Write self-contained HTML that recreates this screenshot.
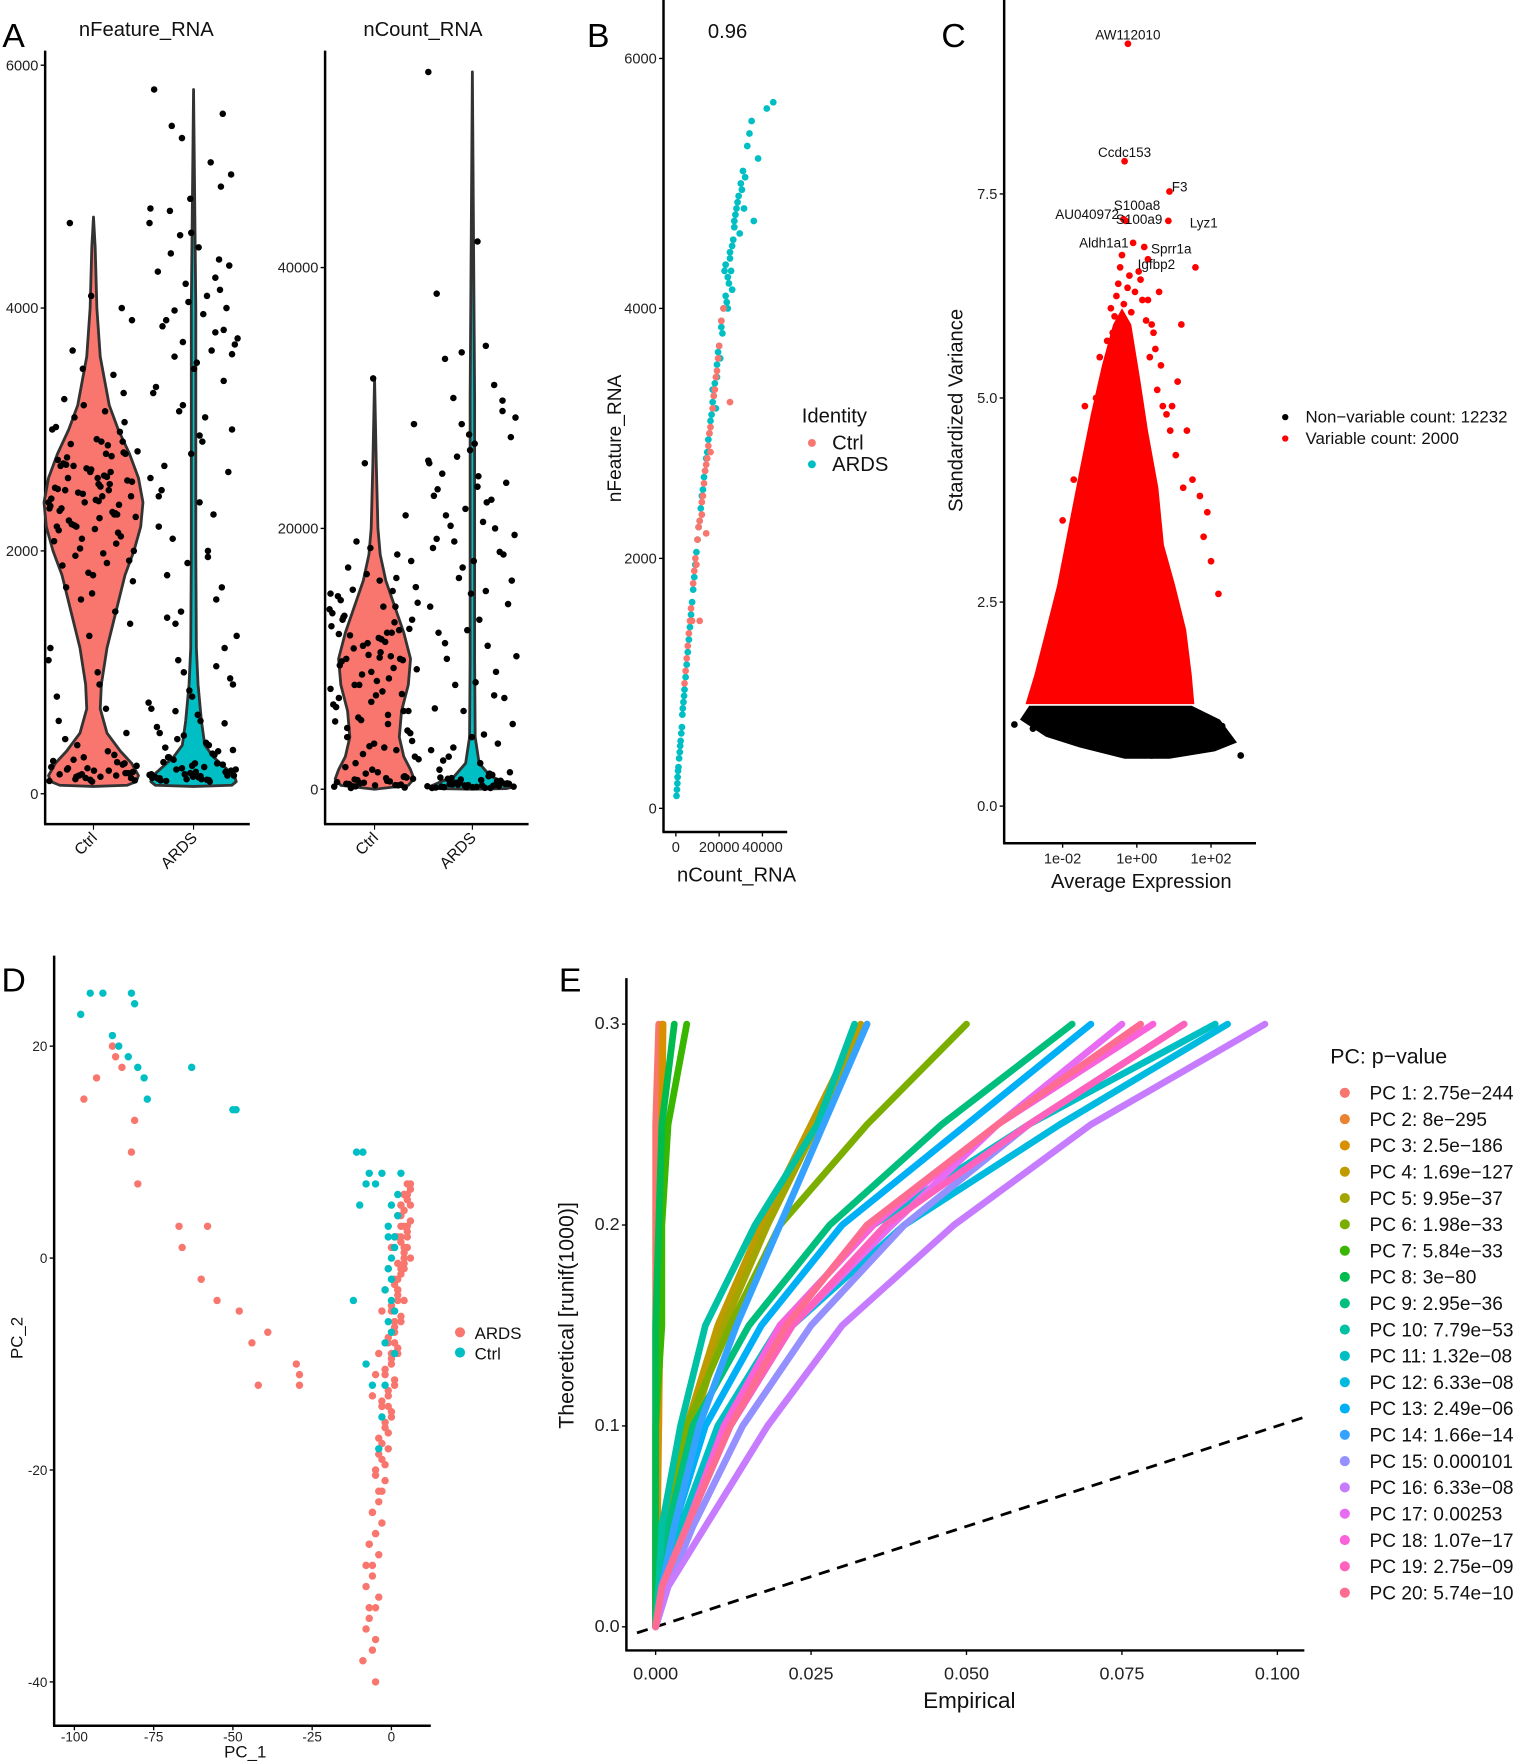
<!DOCTYPE html>
<html><head><meta charset="utf-8"><style>
html,body{margin:0;padding:0;background:#fff;}
svg{display:block;font-family:"Liberation Sans",Arial,sans-serif;}
</style></head><body>
<svg id="fig" width="1535" height="1764" viewBox="0 0 1365 1569">
<g id="g"></g>
</svg>
<script>
// ===== Panel A data =====
const a1Categories=["Ctrl","ARDS"];
const a1CtrlFeature=[2400,2600,2200,2800,2500,2300,2700,2900,2100,2450,2650,2350,2550,2750,1900,1700,1500,3100,3300,3500,3900,4100,1200,900,600,350,200,150,120,250,300,180,100,220,140,160,2500,2600,2300,2200,2800,2400,2000,1800,3000,2900,2700,2550,2250,2150,400,500,130,110,190,270,2450,2350,2650,4700,2380,2480,2580,2680,2280,2180,2080,1980,1880,2780,2880,2980,150,170,210,230,
2420,2520,2620,2720,2320,2220,2120,2020,1920,1820,2820,2920,3020,3150,3250,3450,3650,4000,1600,1400,1300,1100,1000,800,700,450,320,280,240,160,130,115,105,2410,2510,2610,2710,2310,2210,2810,2470,2570,2670,2370,2270,2170,2870,2770,2060,1960,3060,3200,1750,1650,2430,2530,2330,190,210,260,140,170];
const a1ArdsFeature=[5600,5400,5100,4900,4700,4500,4300,4100,3900,3800,3600,3400,3200,3000,2800,2600,2400,2200,2000,1800,1600,1400,1200,1000,900,800,700,600,500,400,300,250,200,180,160,150,140,130,120,110,100,300,350,450,4000,4200,3700,3500,3300,2900,2500,5200,4800,4400,1100,150,120,200,250,5800,3950,3850,3650,4450,4150,3150,2650,1900,1300,180,140,220,260,330,
5500,5000,4600,4350,4050,3750,3550,3350,3100,2700,2300,2100,1700,1500,950,850,750,650,550,420,380,320,280,240,210,190,170,155,135,125,115,105,4250,3980,3820,3720,3620,4620,4820,2950,2450,1950,1450,1050,680,580,480,360,230,160,145,128,112];
const a1CtrlDensity=[[4750,0],[4500,1.5],[4000,3],[3600,6],[3200,14],[3000,22],[2800,32],[2600,40],[2400,44],[2200,42],[2000,36],[1800,28],[1500,20],[1200,12],[900,7],[700,6],[500,12],[350,24],[250,34],[150,40],[100,38],[70,30],[60,0]];
const a1ArdsDensity=[[5800,0],[4000,2],[2000,2],[1200,2.5],[900,4],[600,7],[400,10],[300,18],[200,30],[150,36],[100,38],[70,34],[60,0]];
const a2CtrlCount=[12000,10000,14000,8000,6000,11000,13000,9000,15000,16000,7000,5000,4000,3000,2000,1000,500,800,1500,12500,10500,9500,8500,17000,18000,19000,21000,25000,28000,31500,13500,11500,14500,600,400,300,700,900,1200,2500,3500,6500,7500,9800,10200,11800,12200,5500,4500,16500,15500,300,200,14000,13000,12000,100,10000,8000,6000,11200,9200,7200,5200,3200,13200,15200,250,350,450,
12300,10300,14300,8300,6300,11300,13300,9300,15300,7300,5300,4300,3300,2300,1300,550,850,1700,12800,10800,9900,8800,17500,18500,13800,11600,14800,650,420,320,750,950,2700,3700,6700,7700,10100,11900,5700,4700,16200,220,130];
const a2ArdsCount=[55000,42000,38000,34000,33000,31000,30000,29000,28000,27000,26000,25000,24000,23000,22000,21000,20000,19000,18000,17000,16000,15000,14000,13000,12000,11000,10000,9000,8000,7000,6000,5000,4000,3000,2000,1500,1000,800,600,500,400,300,200,150,100,700,900,1200,2500,3500,25500,23500,21500,19500,17500,18500,300,200,100,400,250,350,450,150,28500,26500,22500,20500,
24200,22200,20200,18200,16200,14200,12200,10200,8200,6200,4200,2200,1100,850,650,550,420,320,230,180,130,110,160,270,380,480,750,1300,27200,25200,23200,19200,15200,11200,7200,3200,29800,33500];
const a2CtrlDensity=[[31500,0],[25000,1.5],[20000,3],[18000,5],[16000,10],[14000,18],[12000,26],[10000,32],[8000,30],[6000,24],[4000,22],[2500,26],[1500,32],[800,35],[300,30],[0,0]];
const a2ArdsDensity=[[55000,0],[30000,2],[10000,2],[4000,2.5],[2000,6],[1000,16],[500,30],[200,38],[50,30],[0,0]];
const a1Ticks=[0,2000,4000,6000];
const a2Ticks=[0,20000,40000];
// ===== Panel B data =====
const bArdsCount=[500,800,1000,1500,2000,2500,3000,3500,4000,5000,6000,7000,8000,9000,10000,11000,12000,13000,14000,15000,16000,17000,18000,19000,20000,21000,22000,23000,24000,25000,26000,27000,28000,29000,30000,31000,33000,35000,38000,42000,45000,36000,22500,24500,26500,20500,18500,27500,29500,
300,700,1200,1800,2200,2800,3200,3800,4500,5500,6500,7500,8500,9500,10500,11500,12500,13500,14500,15500,16500,17500,19500,21500,23500,25500,27000,28500,30500,32000,34000,24000,26000,21000,23000,25000,19000,17000,31500];
const bArdsFeature=[150,250,300,400,500,600,750,850,950,1150,1350,1550,1750,1950,2150,2300,2500,2650,2800,2950,3100,3250,3400,3550,3700,3850,4000,4100,4250,4400,4500,4650,4800,4900,5000,5100,5300,5500,5200,5600,5650,4700,4300,4200,4550,3600,3200,4750,4600,
100,200,330,450,540,650,800,900,1050,1250,1450,1650,1850,2050,2250,2400,2550,2700,2850,3000,3150,3300,3650,3800,4050,4300,4700,4850,4950,5050,5400,4000,4150,3900,4350,4450,3450,3350,4800];
const bCtrlCount=[4000,5000,6000,7000,8000,9000,10000,11000,12000,13000,14000,15000,16000,17000,18000,19000,20000,21000,7500,9500,12500,15500,18500,22000,11000,14000,16000,25000,4500,5500,6500,8500,10500,13500,17500,19500,14500,12000];
const bCtrlFeature=[1000,1200,1400,1600,1800,2000,2150,2300,2450,2600,2750,2900,3050,3200,3350,3500,3700,3900,1500,1950,2500,3000,3450,4000,1500,2200,2850,3250,1100,1300,1500,1900,2250,2700,3300,3600,2800,2350];
const bXTicks=[0,20000,40000];
const bYTicks=[0,2000,4000,6000];
// ===== Panel C data =====
const cCloud=[[-3.0,1.25],[-2.76,1.61],[-2.45,2.16],[-2.15,2.7],[-1.85,3.4],[-1.55,4.1],[-1.24,4.8],[-0.94,5.4],[-0.64,5.9],[-0.4,6.1],[-0.15,5.9],[0.1,5.2],[0.3,4.6],[0.58,3.9],[0.73,3.2],[1.03,2.71],[1.33,2.16],[1.48,1.61],[1.55,1.25]];
const cBand=[[-3.15,1.06],[-2.9,1.23],[1.48,1.23],[2.24,1.06],[2.7,0.78],[2.1,0.67],[0.88,0.58],[-0.33,0.58],[-1.55,0.72],[-2.45,0.85]];
const cRedLog=[-0.24,-0.33,0.88,-0.36,-0.3,0.85,-0.1,0.2,-0.4,1.58,0.6,0.4,-0.6,1.2,1.1,0.9,2.2,1.8,0.3,-0.9,-1.2,1.5,0.7,
-0.5,-0.2,0.1,0.3,-0.7,0.5,-0.45,-0.05,0.25,-0.8,0.65,0.95,-1.0,1.35,-1.4,1.7,-1.7,0.15,-0.25,0.45,-0.55,0.05,-0.15,0.35,-0.35,0.55,-0.65,0.8,-0.85,1.05,-1.1,1.25,2.0,1.9,-2.0];
const cRedVar=[9.34,7.9,7.53,7.19,7.17,7.17,6.9,6.85,6.75,6.6,6.3,5.9,6.0,5.9,5.2,4.6,2.6,3.3,6.7,5.0,4.3,4.0,4.9,
6.4,6.5,6.45,6.2,6.1,5.6,6.6,6.3,5.95,5.7,5.4,4.9,5.5,4.6,4.9,3.8,4.0,6.2,6.35,5.8,6.25,6.55,6.05,5.5,6.15,5.1,5.8,4.8,5.3,4.3,5.0,3.9,3.0,3.6,3.5];
const cLabels=["AW112010","Ccdc153","F3","AU040972","S100a8","S100a9","Lyz1","Aldh1a1","Sprr1a","Igfbp2"];
const cLabelLog=[-0.24,-0.33,0.88,-0.36,-0.36,-0.3,0.88,-0.1,0.2,-0.1];
const cLabelVar=[9.34,7.9,7.53,7.19,7.19,7.17,7.17,6.9,6.85,6.65];
const cBlackLog=[2.8,2.3,1.9,-3.3,-2.8,2.0,1.2,-0.5,0.4];
const cBlackVar=[0.62,0.98,1.05,1.0,0.95,0.85,0.7,0.65,0.62];
const cXTicks=[-2,0,2];const cXTickLabels=["1e-02","1e+00","1e+02"];
const cYTicks=[0,2.5,5,7.5];
// ===== Panel D data =====
const dArdsPC1=[-97,-93,-88,-87,-85,-82,-81,-80,-67,-66,-60,-58,-55,-48,-44,-42,-39,-30,-29,-29,
5,4,6,3,5,2,4,6,3,1,2,4,0,3,1,-1,2,0,-2,1,-1,-3,0,-2,-4,-1,-3,-5,-2,-4,-6,-3,-5,-7,-4,-6,-8,-5,-7,-8,-6,-9,-5,3,5,4,2,1,0,-1,4,3,2,5,1,
6,5,4,6,5,3,4,2,5,3,1,4,2,0,3,1,-1,2,0,-2,1,-1,-3,0,-2,-1,-3,-4,-2,-5,-3,-4,-6,-5,-7,-6,-4,-8,-7,-5,6,5,4,3,2,4,3,1,0,-1,-2,-3,2,1,-4,-5,-6];
const dArdsPC2=[15,17,20,19,18,10,13,7,3,1,-2,3,-4,-5,-8,-12,-7,-10,-12,-11,
7,6,5,4,3,2,1,0,-1,-2,-3,-4,-5,-6,-7,-8,-9,-10,-11,-12,-13,-14,-15,-16,-17,-18,-19,-20,-21,-22,-24,-25,-26,-27,-28,-30,-31,-33,-34,-35,-37,-38,-40,5,2,-1,-3,-6,-9,-14,0,3,-2,6,-8,
6.5,5.5,4.5,3.5,2.5,1.5,0.5,-0.5,1,-1.5,-2.5,-0.5,-3.5,-4.5,-5.5,-6.5,-7.5,-8.5,-9.5,-10.5,-11.5,-12.5,-13.5,-14.5,-15.5,-16.5,-17.5,-18.5,-19.5,-20.5,-22,-23,-24,-26,-27,-29,-32,-29,-33,-36,7,6,6,5,4,3,2,2,1,-1,-3,-5,-4,-6,-9,-11,-13];
const dCtrlPC1=[-98,-95,-91,-88,-86,-83,-82,-81,-80,-78,-77,-63,-50,-49,-11,-9,-7,-10,-8,-12,-8,-6,-2,-3,0,1,-1,0,2,-2,-1,-4,0,1,-3,-5,3,-1,0,1,-2,0,2,-1,1];
const dCtrlPC2=[23,25,25,21,20,19,25,24,18,17,15,18,14,14,10,10,8,5,7,-4,-10,-12,-12,-15,0,2,3,5,6,-3,-6,-18,-2,-5,8,7,8,-1,-4,1,-8,-7,4,2,-9];
const dXTicks=[-100,-75,-50,-25,0];
const dYTicks=[-40,-20,0,20];
// ===== Panel E data =====
const eLevels=[0,0.02,0.05,0.1,0.15,0.2,0.25,0.3];
const eLabels=["PC 1: 2.75e\u2212244","PC 2: 8e\u2212295","PC 3: 2.5e\u2212186","PC 4: 1.69e\u2212127","PC 5: 9.95e\u221237","PC 6: 1.98e\u221233","PC 7: 5.84e\u221233","PC 8: 3e\u221280","PC 9: 2.95e\u221236","PC 10: 7.79e\u221253","PC 11: 1.32e\u221208","PC 12: 6.33e\u221208","PC 13: 2.49e\u221206","PC 14: 1.66e\u221214","PC 15: 0.000101","PC 16: 6.33e\u221208","PC 17: 0.00253","PC 18: 1.07e\u221217","PC 19: 2.75e\u221209","PC 20: 5.74e\u221210"];
const eColors=["#F8766D","#EA8331","#D89000","#C09B00","#A3A500","#7CAE00","#39B600","#00BB4E","#00BF7D","#00C1A3","#00BFC4","#00BAE0","#00B0F6","#35A2FF","#9590FF","#C77CFF","#E76BF3","#FA62DB","#FF62BC","#FF6C91"];
const eSeries=[
[0,0,0,0,0,0,0,0.0005],[0,0,0,0.0005,0.0005,0.0008,0.001,0.001],[0,0,0.0003,0.0005,0.0007,0.0008,0.001,0.0012],
[0,0.0005,0.002,0.005,0.01,0.017,0.025,0.033],[0,0.0005,0.002,0.006,0.011,0.018,0.026,0.034],[0,0.0005,0.002,0.005,0.012,0.02,0.034,0.05],
[0,0,0,0,0.001,0.001,0.002,0.005],[0,0,0,0,0,0.0005,0.001,0.003],[0,0.0005,0.002,0.006,0.015,0.028,0.046,0.067],
[0,0.0005,0.001,0.004,0.008,0.016,0.026,0.032],[0,0.001,0.004,0.01,0.02,0.035,0.06,0.09],[0,0.001,0.005,0.012,0.022,0.04,0.065,0.092],
[0,0.001,0.003,0.008,0.017,0.03,0.05,0.07],[0,0.001,0.003,0.007,0.013,0.02,0.027,0.034],[0,0.002,0.006,0.014,0.025,0.04,0.06,0.085],
[0,0.002,0.008,0.018,0.03,0.048,0.07,0.098],[0,0.001,0.005,0.012,0.022,0.038,0.055,0.075],[0,0.001,0.005,0.011,0.02,0.035,0.055,0.08],
[0,0.001,0.005,0.012,0.022,0.037,0.06,0.085],[0,0.001,0.005,0.012,0.021,0.034,0.055,0.078]];
const eXTicks=[0,0.025,0.05,0.075,0.1];const eXTickLabels=["0.000","0.025","0.050","0.075","0.100"];
const eYTicks=[0,0.1,0.2,0.3];

const NS="http://www.w3.org/2000/svg";
const root=document.getElementById('g');
function el(tag,attrs,parent,txt){const e=document.createElementNS(NS,tag);for(const k in attrs)e.setAttribute(k,attrs[k]);if(txt!==undefined)e.textContent=txt;(parent||root).appendChild(e);return e;}
function lin(d0,d1,r0,r1){return v=>r0+(v-d0)/(d1-d0)*(r1-r0);}
function axes(x0,yTop,yBot,xRight,name){
  const a=el('line',{x1:x0,y1:yTop,x2:x0,y2:yBot,stroke:'#000','stroke-width':2.2});
  
  const b=el('line',{x1:x0-1,y1:yBot,x2:xRight,y2:yBot,stroke:'#000','stroke-width':2.2});
  
}
function yTick(x0,y,label,name,fs){
  el('line',{x1:x0-4,y1:y,x2:x0,y2:y,stroke:'#000','stroke-width':1.2});
  const t=el('text',{x:x0-6,y:y+4.5,'font-size':fs||13,'text-anchor':'end',fill:'#222'},null,label);
  
}
function xTick(x,y0,label,name,fs,off){
  el('line',{x1:x,y1:y0,x2:x,y2:y0+4,stroke:'#000','stroke-width':1.2});
  const t=el('text',{x:x,y:y0+(off||18),'font-size':fs||13,'text-anchor':'middle',fill:'#222'},null,label);
  
}
function txt(x,y,s,fs,name,anchor,rot){
  const a={x:x,y:y,'font-size':fs,'text-anchor':anchor||'middle',fill:'#111'};
  if(rot)a.transform='rotate('+rot+' '+x+' '+y+')';
  const t=el('text',a,null,s);return t;
}
function dot(x,y,r,fill,name){const c=el('circle',{cx:x,cy:y,r:r,fill:fill});return c;}
function violin(cx,dens,ys,fill,name){
  let left=[],right=[];dens.forEach(d=>{right.push((cx+d[1])+','+ys(d[0]));left.unshift((cx-d[1])+','+ys(d[0]));});
  const p=el('polygon',{points:right.concat(left).join(' '),fill:fill,stroke:'#333','stroke-width':2.5,'stroke-linejoin':'round'});
  
}
function jit(i){return (((i*53)%97)/97-0.5)*80;}

[["A",12,42],["B",532,42],["C",848,42],["D",12,882],["E",507,882]].forEach(p=>{
  const t=el('text',{x:p[1],y:p[2],'font-size':30,'text-anchor':'middle',fill:'#000'},null,p[0]);
  
});

// ----- A1 -----
{const ys=lin(0,6000,706,58);const xc=[83,172];
axes(40,45,733,222,'nfeature-violin');
a1Ticks.forEach(v=>yTick(40,ys(v),String(v),'nfeature-y-tick'));
txt(130,32,'nFeature_RNA',18,'nfeature-title');
violin(xc[0],a1CtrlDensity,ys,'#F8766D','violin-ctrl-nfeature');
violin(xc[1],a1ArdsDensity,ys,'#00BFC4','violin-ards-nfeature');
a1CtrlFeature.forEach((v,i)=>dot(xc[0]+jit(i),ys(v),2.9,'#000','point-ctrl-nfeature'));
a1ArdsFeature.forEach((v,i)=>dot(xc[1]+jit(i+7),ys(v),2.9,'#000','point-ards-nfeature'));
a1Categories.forEach((c,i)=>{el('line',{x1:xc[i],y1:733,x2:xc[i],y2:738,stroke:'#000'});txt(xc[i]+4,746,c,14,'nfeature-x-label','end',-45);});}
// ----- A2 -----
{const ys=lin(0,20000,702,470);const xc=[333,420];
axes(289,45,733,470,'ncount-violin');
a2Ticks.forEach(v=>yTick(289,ys(v),String(v),'ncount-y-tick'));
txt(376,32,'nCount_RNA',18,'ncount-title');
violin(xc[0],a2CtrlDensity,ys,'#F8766D','violin-ctrl-ncount');
violin(xc[1],a2ArdsDensity,ys,'#00BFC4','violin-ards-ncount');
a2CtrlCount.forEach((v,i)=>dot(xc[0]+jit(i+3),ys(v),2.9,'#000','point-ctrl-ncount'));
a2ArdsCount.forEach((v,i)=>dot(xc[1]+jit(i+11),ys(v),2.9,'#000','point-ards-ncount'));
a1Categories.forEach((c,i)=>{el('line',{x1:xc[i],y1:733,x2:xc[i],y2:738,stroke:'#000'});txt(xc[i]+4,746,c,14,'ncount-x-label','end',-45);});}
// ----- B -----
{const xs=lin(0,40000,601,678),ys=lin(0,6000,719,52);
axes(590,0,740,700,'scatter-b');
bYTicks.forEach(v=>yTick(590,ys(v),String(v),'b-y-tick'));
bXTicks.forEach(v=>xTick(xs(v),740,String(v),'b-x-tick'));
txt(647,34,'0.96',18,'b-correlation-title');
txt(552,390,'nFeature_RNA',17,'b-y-axis-title','middle',-90);
txt(655,784,'nCount_RNA',18,'b-x-axis-title');
bArdsCount.forEach((v,i)=>dot(xs(v),ys(bArdsFeature[i]),3,'#00BFC4','point-ards-b'));
bCtrlCount.forEach((v,i)=>dot(xs(v),ys(bCtrlFeature[i]),3,'#F8766D','point-ctrl-b'));
txt(713,376,'Identity',18,'b-legend-title','start');
dot(722,394,3.5,'#F8766D','b-legend-ctrl-key');txt(740,400,'Ctrl',18,'b-legend-ctrl','start');
dot(722,413,3.5,'#00BFC4','b-legend-ards-key');txt(740,419,'ARDS',18,'b-legend-ards','start');}
// ----- C -----
{const xs=lin(0,1,1011,1044),ys=lin(0,2.5,717,535.5);
axes(893,0,750,1117,'variable-features');
cYTicks.forEach(v=>yTick(893,ys(v),v.toFixed(1),'c-y-tick'));
cXTicks.forEach((v,i)=>xTick(xs(v),750,cXTickLabels[i],'c-x-tick'));
txt(856,365,'Standardized Variance',18,'c-y-axis-title','middle',-90);
txt(1015,790,'Average Expression',18,'c-x-axis-title');
const cl=el('polygon',{points:cCloud.map(p=>xs(p[0])+','+ys(p[1])).join(' '),fill:'#FF0000'});

const bd=el('polygon',{points:cBand.map(p=>xs(p[0])+','+ys(p[1])).join(' '),fill:'#000'});

cRedLog.forEach((v,i)=>dot(xs(v),ys(cRedVar[i]),3,'#FF0000','point-variable-gene'));
cBlackLog.forEach((v,i)=>dot(xs(v),ys(cBlackVar[i]),3,'#000','point-nonvariable-gene'));
const lOff=[[0,-4,'middle'],[0,-4,'middle'],[2,0,'start'],[-4,0,'end'],[12,-8,'middle'],[12,3,'middle'],[18,6,'start'],[-4,4,'end'],[6,6,'start'],[4,5,'start']];
cLabels.forEach((s,i)=>txt(xs(cLabelLog[i])+lOff[i][0],ys(cLabelVar[i])+lOff[i][1],s,12,'gene-label-'+s.toLowerCase(),lOff[i][2]));
dot(1143,371,2.8,'#000','c-legend-nonvariable-key');txt(1161,376,'Non\u2212variable count: 12232',15,'c-legend-nonvariable','start');
dot(1143,390,2.8,'#FF0000','c-legend-variable-key');txt(1161,395,'Variable count: 2000',15,'c-legend-variable','start');}
// ----- D -----
{const xs=lin(0,-100,348,66),ys=lin(0,20,1119,930.5);
axes(48,850,1535,383,'pca');
dYTicks.forEach(v=>yTick(48,ys(v),String(v),'d-y-tick',12));
dXTicks.forEach(v=>xTick(xs(v),1535,String(v),'d-x-tick',12,14));
txt(20,1190,'PC_2',15,'d-y-axis-title','middle',-90);
txt(218,1563,'PC_1',15,'d-x-axis-title');
dArdsPC1.forEach((v,i)=>dot(xs(v),ys(dArdsPC2[i]),3.3,'#F8766D','point-ards-pca'));
dCtrlPC1.forEach((v,i)=>dot(xs(v),ys(dCtrlPC2[i]),3.3,'#00BFC4','point-ctrl-pca'));
dot(409,1185,4.5,'#F8766D','d-legend-ards-key');txt(422,1191,'ARDS',15,'d-legend-ards','start');
dot(409,1203,4.5,'#00BFC4','d-legend-ctrl-key');txt(422,1209,'Ctrl',15,'d-legend-ctrl','start');}
// ----- E -----
{const xs=lin(0,0.1,583,1136),ys=lin(0,0.1,1447,1268.3);
axes(557,870,1468,1160,'jackstraw');
eYTicks.forEach(v=>yTick(557,ys(v),v.toFixed(1),'e-y-tick',16));
eXTicks.forEach((v,i)=>xTick(xs(v),1468,eXTickLabels[i],'e-x-tick',16,26));
txt(510,1170,'Theoretical [runif(1000)]',19,'e-y-axis-title','middle',-90);
txt(862,1519,'Empirical',20,'e-x-axis-title');
const dl=el('line',{x1:xs(-0.003),y1:ys(-0.003),x2:xs(0.105),y2:ys(0.105),stroke:'#000','stroke-width':2.5,'stroke-dasharray':'10,7'});

eSeries.forEach((s,k)=>{
  const p=el('polyline',{points:s.map((x,j)=>xs(x)+','+ys(eLevels[j])).join(' '),fill:'none',stroke:eColors[k],'stroke-width':6,'stroke-linejoin':'round','stroke-linecap':'round'});
  
});
txt(1183,946,'PC: p\u2212value',19,'e-legend-title','start');
eLabels.forEach((s,k)=>{const y=972+k*23.4;dot(1196,y,4.5,eColors[k],'e-legend-key');txt(1218,y+6,s,17,'e-legend-entry','start');});}
</script>
</body></html>
